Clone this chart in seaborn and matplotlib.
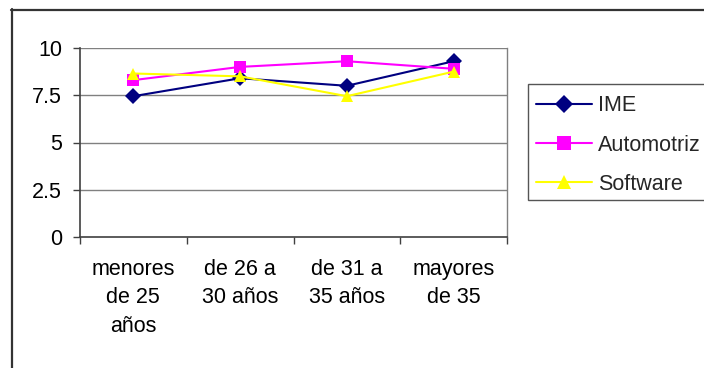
import matplotlib
matplotlib.use("Agg")
import matplotlib.pyplot as plt
from matplotlib.lines import Line2D
from matplotlib.patches import Rectangle
import seaborn as sns
import pandas as pd

# Age groups and average scores per sector
categories = ["menores\nde 25\naños", "de 26 a\n30 años", "de 31 a\n35 años", "mayores\nde 35"]
ime = [7.45, 8.4, 8.0, 9.3]
automotriz = [8.3, 9.0, 9.3, 8.9]
software = [8.65, 8.5, 7.45, 8.75]
series_names = ["IME", "Automotriz", "Software"]
y_ticks = [0, 2.5, 5, 7.5, 10]
y_tick_labels = ["0", "2.5", "5", "7.5", "10"]

rows = []
for name, vals in zip(series_names, [ime, automotriz, software]):
    for i, v in enumerate(vals):
        rows.append({"pos": i, "valor": v, "serie": name})
df = pd.DataFrame(rows)

sns.set_theme(style="white")
plt.rcParams["font.family"] = ["Liberation Sans", "DejaVu Sans"]

FS = 15.5
W, H = 704, 368
fig = plt.figure(figsize=(W / 100, H / 100), dpi=100)
fig.patch.set_facecolor("white")

def fx(px):
    return px / W

def fy(py):
    return 1 - py / H

ax = fig.add_axes([fx(80), fy(237), fx(507) - fx(80), fy(48) - fy(237)])

palette = {"IME": "#000080", "Automotriz": "#FF00FF", "Software": "#FFFF00"}
markers = {"IME": "D", "Automotriz": "s", "Software": "^"}
sns.lineplot(data=df, x="pos", y="valor", hue="serie", style="serie",
             palette=palette, markers=markers, dashes=False,
             markersize=8.5, linewidth=1.5, markeredgewidth=0,
             ax=ax, legend=False, zorder=3)

ax.set_xlim(-0.5, 3.5)
ax.set_ylim(0, 10)
ax.set_xlabel("")
ax.set_ylabel("")

# Horizontal gridlines
for t in y_ticks[1:]:
    ax.axhline(t, color="#808080", linewidth=1.0, zorder=1)

ax.set_yticks(y_ticks)
ax.set_yticklabels(y_tick_labels)
ax.set_xticks([0, 1, 2, 3])
ax.set_xticklabels(categories, linespacing=1.45)
# category boundary ticks
ax.set_xticks([-0.5, 0.5, 1.5, 2.5, 3.5], minor=True)
ax.tick_params(axis="x", which="major", length=0, pad=16, labelsize=FS, colors="black")
ax.tick_params(axis="x", which="minor", length=5, width=1, color="#404040", direction="out", bottom=True)
ax.tick_params(axis="y", length=5, width=1, color="#404040", direction="out", left=True,
               pad=8, labelsize=FS)
for lab in ax.get_yticklabels() + ax.get_xticklabels():
    lab.set_color("black")

ax.spines["top"].set_visible(False)
ax.spines["right"].set_color("#808080")
ax.spines["right"].set_linewidth(1.0)
ax.spines["left"].set_color("#404040")
ax.spines["left"].set_linewidth(1.2)
ax.spines["bottom"].set_color("#404040")
ax.spines["bottom"].set_linewidth(1.2)

# Outer chart frame (left and top edges)
fig.add_artist(Line2D([fx(11.5), fx(11.5)], [fy(9), fy(368)], transform=fig.transFigure,
                      color="#333333", linewidth=1.6))
fig.add_artist(Line2D([fx(11), fx(704)], [fy(9.5), fy(9.5)], transform=fig.transFigure,
                      color="#333333", linewidth=1.6))

# Legend box
fig.add_artist(Rectangle((fx(528), fy(200)), fx(760) - fx(528), fy(84) - fy(200),
                         transform=fig.transFigure, facecolor="white",
                         edgecolor="#555555", linewidth=1.0))
handles = [Line2D([0], [0], color=palette[n], marker=markers[n], markersize=9.5,
                  markeredgewidth=0, linewidth=1.5) for n in series_names]
fig.legend(handles, series_names, loc="upper left",
           bbox_to_anchor=(fx(531.5), fy(91)), bbox_transform=fig.transFigure,
           frameon=False, fontsize=FS, handlelength=2.6, handletextpad=0.28,
           labelspacing=0.85, borderpad=0.2, borderaxespad=0)

fig.savefig("out.png", dpi=100, facecolor="white")
